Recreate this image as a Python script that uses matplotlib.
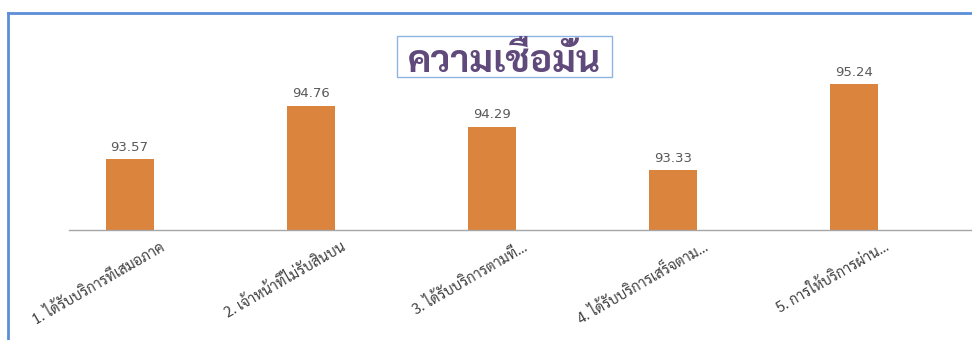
import matplotlib
matplotlib.use("Agg")
import matplotlib.pyplot as plt
from matplotlib.lines import Line2D
from matplotlib.patches import Rectangle
from matplotlib.transforms import ScaledTranslation

categories = [
    "1. ได้รับบริการที่เสมอภาค",
    "2. เจ้าหน้าที่ไม่รับสินบน",
    "3. ได้รับบริการตามที่...",
    "4. ได้รับบริการเสร็จตาม...",
    "5. การให้บริการผ่าน...",
]
values = [93.57, 94.76, 94.29, 93.33, 95.24]
title = "ความเชื่อมั่น"

thai = ["Sarabun", "DejaVu Sans"]

W, H = 972, 340
fig = plt.figure(figsize=(W / 100, H / 100), dpi=100)
# axes: x 69..972 px, y 50..230 px
ax = fig.add_axes([69 / W, 1 - 230 / H, 1 - 69 / W, 180 / H])

x = list(range(len(values)))
ax.bar(x, values, width=0.265, color="#db843d")
ax.set_ylim(92, 96)
ax.set_xlim(-0.334, 4.65)

for xi, v in zip(x, values):
    ax.annotate(f"{v:.2f}", (xi, v), xytext=(0, 4), textcoords="offset points",
                ha="center", va="bottom", fontsize=9.5, color="#595959")

for s in ["top", "right", "left"]:
    ax.spines[s].set_visible(False)
ax.spines["bottom"].set_color("#a6a6a6")
ax.spines["bottom"].set_linewidth(1)
ax.set_yticks([])
ax.set_xticks(x)
ax.set_xticklabels([])
ax.tick_params(axis="x", length=0)

# rotated category labels, right end a bit right of each bar centre
shift = ScaledTranslation(34 / 100, -16 / 100, fig.dpi_scale_trans)
for xi, lab in zip(x, categories):
    ax.text(xi, 92, lab, rotation=30, rotation_mode="anchor", ha="right",
            va="center", fontsize=10.5, color="#404040", family=thai,
            transform=ax.transData + shift)

# title with box
fig.add_artist(Rectangle((397 / W, 1 - 77 / H), 215 / W, 41 / H,
                         transform=fig.transFigure, facecolor="white",
                         edgecolor="#8eb4e3", linewidth=1))
fig.text(504 / W, 1 - 72 / H, title, ha="center", va="baseline",
         fontsize=27, fontweight="bold", color="#604a7b", family=thai)

# outer frame lines (top and left)
fig.add_artist(Line2D([8 / W, 1], [1 - 13 / H, 1 - 13 / H],
                      transform=fig.transFigure, color="#5b8ed6", linewidth=2))
fig.add_artist(Line2D([8 / W, 8 / W], [0, 1 - 13 / H],
                      transform=fig.transFigure, color="#5b8ed6", linewidth=2))

fig.savefig("out.png", dpi=100)
